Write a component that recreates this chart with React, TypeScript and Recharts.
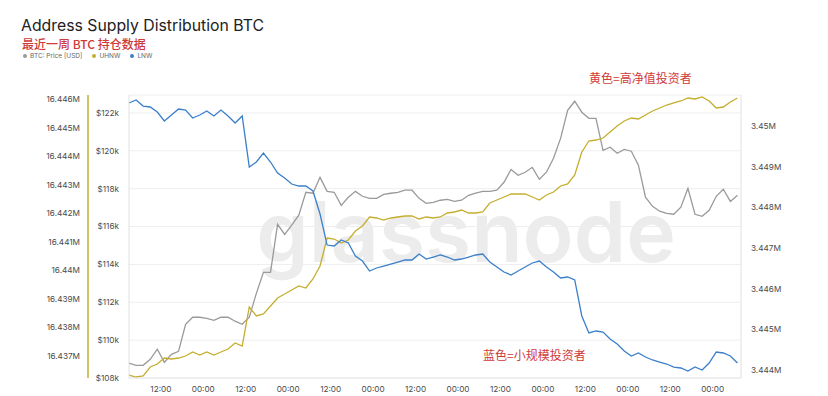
import React from "react";
import { LineChart, Line, XAxis, YAxis, CartesianGrid } from "recharts";

// hours since the first sample (03:00 on day one), every 2h
const hours = [
  0, 2, 4, 6, 8, 10, 12, 14, 16, 18, 20, 22, 24, 26, 28, 30, 32, 34, 36, 38,
  40, 42, 44, 46, 48, 50, 52, 54, 56, 58, 60, 62, 64, 66, 68, 70, 72, 74, 76, 78,
  80, 82, 84, 86, 88, 90, 92, 94, 96, 98, 100, 102, 104, 106, 108, 110, 112, 114,
  116, 118, 120, 122, 124, 126, 128, 130, 132, 134, 136, 138, 140, 142, 144, 146,
  148, 150, 152, 154, 156, 158, 160, 162, 164, 166, 168, 170, 172,
];

const btcPrice = [
  108780, 108670, 108670, 108990, 109520, 108830, 109250, 109410, 110840, 111210,
  111210, 111150, 111050, 111210, 111210, 111000, 110840, 111210, 112470, 113580,
  113580, 116120, 115590, 116070, 116600, 117810, 117760, 118600, 117860, 117810,
  117120, 117550, 117860, 117600, 117490, 117490, 117700, 117760, 117810, 117920,
  117920, 117490, 117230, 117280, 117390, 117440, 117330, 117390, 117650, 117760,
  117860, 117860, 117920, 118340, 119020, 118710, 118870, 119130, 118500, 118870,
  119610, 120660, 122140, 122620, 122040, 121720, 121720, 120030, 120190, 119870,
  120080, 119980, 119240, 117550, 117070, 116810, 116700, 116650, 117020, 118020,
  116650, 116540, 116860, 117600, 117970, 117330, 117650,
];

const uhnw = [
  16436334, 16436264, 16436299, 16436615, 16436720, 16436930, 16436895, 16436930, 16437000, 16437141,
  16437035, 16437141, 16437035, 16437141, 16437246, 16437456, 16437351, 16438718, 16438403, 16438473,
  16438753, 16439034, 16439174, 16439314, 16439455, 16439384, 16439700, 16440156, 16441137, 16441102,
  16440962, 16441067, 16441383, 16441558, 16441874, 16441839, 16441768, 16441839, 16441874, 16441909,
  16441909, 16441804, 16441874, 16441839, 16441874, 16442014, 16442049, 16442119, 16442014, 16442014,
  16442049, 16442365, 16442470, 16442575, 16442680, 16442680, 16442680, 16442575, 16442470, 16442645,
  16442750, 16442961, 16443031, 16443346, 16444153, 16444538, 16444573, 16444643, 16444854, 16445064,
  16445239, 16445345, 16445310, 16445450, 16445590, 16445695, 16445800, 16445871, 16445941, 16446046,
  16446011, 16446081, 16445941, 16445695, 16445730, 16445906, 16446046,
];

const lnw = [
  3450565, 3450639, 3450491, 3450467, 3450344, 3450123, 3450270, 3450418, 3450393, 3450196,
  3450270, 3450369, 3450246, 3450393, 3450246, 3450073, 3450246, 3448991, 3449114, 3449336,
  3449114, 3448844, 3448721, 3448573, 3448524, 3448524, 3448401, 3447836, 3447073, 3447049,
  3447196, 3447123, 3446803, 3446680, 3446434, 3446508, 3446557, 3446606, 3446655, 3446705,
  3446705, 3446852, 3446729, 3446778, 3446828, 3446778, 3446705, 3446729, 3446778, 3446828,
  3446852, 3446655, 3446532, 3446410, 3446336, 3446434, 3446532, 3446631, 3446680, 3446532,
  3446410, 3446262, 3446287, 3446213, 3445328, 3444910, 3444959, 3444934, 3444762, 3444639,
  3444467, 3444344, 3444418, 3444319, 3444246, 3444196, 3444147, 3444073, 3444049, 3443975,
  3444073, 3444000, 3444172, 3444442, 3444418, 3444344, 3444172,
];

const xTicks = [9, 21, 33, 45, 57, 69, 81, 93, 105, 117, 129, 141, 153, 165];
const xTickLabels = [
  "12:00", "00:00", "12:00", "00:00", "12:00", "00:00", "12:00",
  "00:00", "12:00", "00:00", "12:00", "00:00", "12:00", "00:00",
];
const priceTicks = [108000, 110000, 112000, 114000, 116000, 118000, 120000, 122000];
const uhnwTicks = [
  16437000, 16438000, 16439000, 16440000, 16441000, 16442000, 16443000, 16444000,
  16445000, 16446000,
];
const lnwTicks = [3444000, 3445000, 3446000, 3447000, 3448000, 3449000, 3450000];

const data = hours.map((h, i) => ({
  hour: h,
  price: btcPrice[i],
  uhnw: uhnw[i],
  lnw: lnw[i],
}));

const BLUE = "#3b7fca";
const GOLD = "#c5ae2e";
const GRAY = "#9a9a9a";
const RED = "#cf3a3a";
const FONT = "Inter, 'Noto Sans', sans-serif";
const CJK = "'Noto Sans CJK SC', sans-serif";

const tick = { fontSize: 8.2, fill: "#4a4a4a", fontFamily: FONT };
const toM = (v: number) => `${parseFloat((v / 1e6).toFixed(3))}M`;

export default function App() {
  return (
    <div
      style={{
        position: "absolute",
        left: 0,
        top: 0,
        width: 828,
        height: 396,
        background: "#fff",
        overflow: "hidden",
        fontFamily: FONT,
        lineHeight: 1,
      }}
    >
      <div
        style={{
          position: "absolute",
          left: 226,
          top: 190,
          width: 480,
          textAlign: "center",
          fontSize: 84,
          fontWeight: 600,
          color: "#ececec",
        }}
      >
        glassnode
      </div>
      <div style={{ position: "absolute", left: 21, top: 18, fontSize: 15.8, color: "#222" }}>
        Address Supply Distribution BTC
      </div>
      <div
        style={{
          position: "absolute",
          left: 22,
          top: 38,
          fontSize: 12,
          fontWeight: 500,
          color: RED,
          fontFamily: CJK,
        }}
      >
        最近一周 BTC 持仓数据
      </div>
      <div
        style={{
          position: "absolute",
          left: 23,
          top: 53,
          fontSize: 6.5,
          color: "#666",
          display: "flex",
          gap: 10,
          alignItems: "center",
        }}
      >
        {[
          ["BTC: Price [USD]", GRAY],
          ["UHNW", GOLD],
          ["LNW", BLUE],
        ].map(([label, c]) => (
          <span key={label} style={{ display: "flex", alignItems: "center", gap: 3 }}>
            <span style={{ width: 4, height: 4, borderRadius: 2, background: c }} />
            {label}
          </span>
        ))}
      </div>
      <div
        style={{
          position: "absolute",
          left: 589,
          top: 72,
          fontSize: 12,
          color: RED,
          fontFamily: CJK,
        }}
      >
        黄色=高净值投资者
      </div>
      <div
        style={{
          position: "absolute",
          left: 483,
          top: 349,
          fontSize: 12,
          color: RED,
          fontFamily: CJK,
        }}
      >
        蓝色=小规模投资者
      </div>
      <div style={{ position: "absolute", left: 0, top: 0 }}>
        <LineChart
          width={828}
          height={396}
          data={data}
          margin={{ top: 95, right: 0, left: 0, bottom: 0 }}
        >
          <CartesianGrid yAxisId="price" vertical={false} stroke="#eeeeee" />
          <XAxis
            dataKey="hour"
            type="number"
            domain={[0, 173]}
            ticks={xTicks}
            tickFormatter={(v) => xTickLabels[xTicks.indexOf(v)] ?? ""}
            height={18}
            tick={tick}
            tickLine={false}
            axisLine={{ stroke: "#e6e6e6" }}
          />
          <YAxis
            yAxisId="price"
            orientation="left"
            width={41}
            domain={[108000, 122950]}
            ticks={priceTicks}
            tickFormatter={(v) => `$${v / 1000}k`}
            tick={tick}
            tickLine={false}
            tickMargin={4}
            axisLine={{ stroke: "#e0e0e0" }}
          />
          <YAxis
            yAxisId="uhnw"
            orientation="left"
            width={88}
            domain={[16436229, 16446151]}
            ticks={uhnwTicks}
            tickFormatter={toM}
            tick={tick}
            tickLine={false}
            axisLine={{ stroke: GOLD, strokeWidth: 1.5 }}
          />
          <YAxis
            yAxisId="lnw"
            orientation="right"
            width={87}
            domain={[3443803, 3450762]}
            ticks={lnwTicks}
            tickFormatter={toM}
            tick={tick}
            tickLine={false}
            tickMargin={4}
            axisLine={{ stroke: "#e0e0e0" }}
          />
          <Line
            yAxisId="price"
            dataKey="price"
            stroke={GRAY}
            strokeWidth={1.3}
            dot={false}
            type="linear"
            isAnimationActive={false}
          />
          <Line
            yAxisId="uhnw"
            dataKey="uhnw"
            stroke={GOLD}
            strokeWidth={1.3}
            dot={false}
            type="linear"
            isAnimationActive={false}
          />
          <Line
            yAxisId="lnw"
            dataKey="lnw"
            stroke={BLUE}
            strokeWidth={1.3}
            dot={false}
            type="linear"
            isAnimationActive={false}
          />
        </LineChart>
      </div>
    </div>
  );
}
